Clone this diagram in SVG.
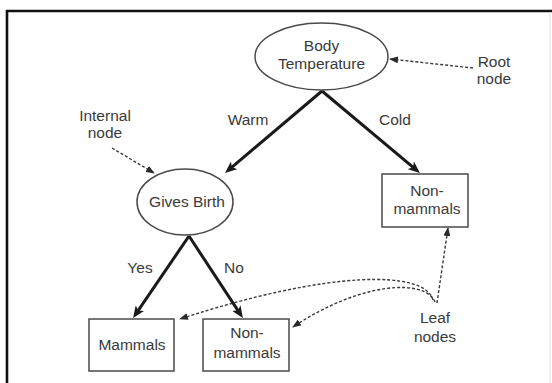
<svg xmlns="http://www.w3.org/2000/svg" width="552" height="383" viewBox="0 0 552 383">
<style>
text{font-family:"Liberation Sans",Arial,sans-serif;font-size:15.5px;fill:#3a3a3a;text-anchor:middle}
.shape{fill:#fff;stroke:#4a4a4a;stroke-width:1.5}
.thick{stroke:#1a1a1a;stroke-width:3;fill:none;marker-end:url(#bigArrow)}
.dash{stroke:#3a3a3a;stroke-width:1.4;stroke-dasharray:3 2;fill:none;marker-end:url(#smallArrow)}
</style>
<defs>
<marker id="bigArrow" markerUnits="userSpaceOnUse" markerWidth="12" markerHeight="10" refX="4" refY="5" orient="auto">
<path d="M0,0 L12,5 L0,10 L3,5 z" fill="#1a1a1a"/>
</marker>
<marker id="smallArrow" markerUnits="userSpaceOnUse" markerWidth="9" markerHeight="7" refX="8" refY="3.5" orient="auto">
<path d="M0,0 L9,3.5 L0,7 z" fill="#2a2a2a"/>
</marker>
</defs>
<rect x="0" y="0" width="552" height="383" fill="#fff"/>
<path d="M7,383 V11 H552" fill="none" stroke="#111" stroke-width="2.6"/>
<line x1="550" y1="12" x2="550" y2="383" stroke="#e2e2e2" stroke-width="1"/>

<g id="connectors">
<line class="thick" x1="322" y1="91" x2="231.1" y2="167.9"/>
<line class="thick" x1="322" y1="91" x2="413.8" y2="167.9"/>
<line class="thick" x1="189" y1="236" x2="137.6" y2="311.4"/>
<line class="thick" x1="189" y1="236" x2="238.5" y2="311.4"/>
<text x="248" y="125">Warm</text>
<text x="395" y="125">Cold</text>
<text x="140" y="273">Yes</text>
<text x="234" y="273">No</text>
<line class="dash" x1="473" y1="68" x2="390" y2="59"/>
<line class="dash" x1="112" y1="148" x2="154" y2="173"/>
<path class="dash" d="M433,300 C425,270 330,270 180,319"/>
<path class="dash" d="M435,302 C425,278 360,282 293,327"/>
<line class="dash" x1="437" y1="303" x2="448" y2="228"/>
</g>

<g id="root">
<ellipse class="shape" cx="321.5" cy="56.5" rx="66.5" ry="33.5"/>
<text x="321.5" y="51">Body</text>
<text x="321.5" y="69">Temperature</text>
</g>
<g id="gives-birth">
<ellipse class="shape" cx="185" cy="202" rx="48" ry="33"/>
<text x="187" y="207">Gives Birth</text>
</g>
<g id="non-mammals-cold">
<rect class="shape" x="382" y="174" width="86" height="53"/>
<text x="427" y="196">Non-</text>
<text x="427" y="214">mammals</text>
</g>
<g id="mammals">
<rect class="shape" x="89" y="319" width="85" height="52"/>
<text x="132" y="350">Mammals</text>
</g>
<g id="non-mammals-no">
<rect class="shape" x="203" y="319" width="86" height="52"/>
<text x="247" y="338">Non-</text>
<text x="247" y="358">mammals</text>
</g>
<g id="label-root-node">
<text x="494" y="67">Root</text>
<text x="494" y="84">node</text>
</g>
<g id="label-internal-node">
<text x="105" y="121">Internal</text>
<text x="105" y="138">node</text>
</g>
<g id="label-leaf-nodes">
<text x="435" y="323">Leaf</text>
<text x="435" y="342">nodes</text>
</g>
</svg>
